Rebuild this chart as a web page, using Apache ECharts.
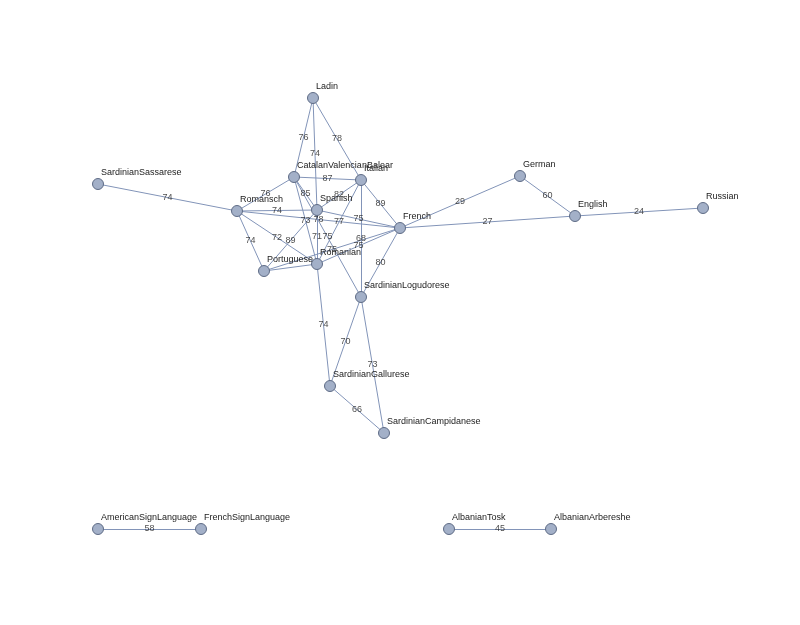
<!DOCTYPE html>
<html><head><meta charset="utf-8">
<script src="https://cdn.jsdelivr.net/npm/echarts@6/dist/echarts.min.js"></script>
<style>html,body{margin:0;background:#fff}#c{width:800px;height:625px}</style>
</head><body><div id="c"></div>
<script>
// language nodes and their layout positions (px)
const names = ['Ladin','CatalanValencianBalear','Italian','Spanish','Romansch','French','Portuguese','Romanian',
  'SardinianLogudorese','SardinianSassarese','German','English','Russian','SardinianGallurese','SardinianCampidanese',
  'AmericanSignLanguage','FrenchSignLanguage','AlbanianTosk','AlbanianArbereshe'];
const posX = [313,294,361,317,237,400,264,317,361,98,520,575,703,330,384,98,201,449,551];
const posY = [98,177,180,210,211,228,271,264,297,184,176,216,208,386,433,529,529,529,529];
// edges: source, target, similarity
const edgeSrc = ['Ladin','Ladin','Ladin','CatalanValencianBalear','Romansch','CatalanValencianBalear','Italian','Italian',
  'Romansch','SardinianSassarese','CatalanValencianBalear','Romansch','Italian','Spanish','CatalanValencianBalear','Romansch',
  'Portuguese','Romansch','Italian','Romanian','Portuguese','French','Romanian','SardinianLogudorese','SardinianLogudorese',
  'SardinianGallurese','French','German','French','English','AmericanSignLanguage','AlbanianTosk','Spanish','Portuguese'];
const edgeDst = ['CatalanValencianBalear','Spanish','Italian','Italian','CatalanValencianBalear','Spanish','Spanish','French',
  'Spanish','Romansch','Romanian','French','Romanian','Romanian','SardinianLogudorese','Romanian',
  'Spanish','Portuguese','SardinianLogudorese','French','French','SardinianLogudorese','SardinianGallurese','SardinianGallurese','SardinianCampidanese',
  'SardinianCampidanese','German','English','English','Russian','FrenchSignLanguage','AlbanianArbereshe','French','Romanian'];
const edgeVal = [76,74,78,87,76,85,82,89,74,74,73,78,77,71,75,72,89,74,68,75,75,80,74,70,73,66,29,60,27,24,58,45,75,null];

const idx = n => names.indexOf(n);
const mids = edgeSrc.map((s, i) => {
  const a = idx(s), b = idx(edgeDst[i]);
  return { value: [(posX[a] + posX[b]) / 2, (posY[a] + posY[b]) / 2], txt: edgeVal[i] };
}).filter(d => d.txt != null);

const chart = echarts.init(document.getElementById('c'));
chart.setOption({
  animation: false,
  grid: { left: 0, top: 0, right: 0, bottom: 0 },
  xAxis: { type: 'value', min: 0, max: 800, show: false },
  yAxis: { type: 'value', min: 0, max: 625, inverse: true, show: false },
  series: [{
    type: 'graph', layout: 'none', coordinateSystem: 'cartesian2d', z: 2,
    symbolSize: 11,
    itemStyle: { color: '#a3b0c8', borderColor: '#5e6b85', borderWidth: 1 },
    label: { show: true, position: 'right', offset: [-8, -11], align: 'left', fontSize: 9, color: '#222', fontFamily: 'Arial' },
    lineStyle: { color: '#8294b8', width: 1, opacity: 1 },
    data: names.map((n, i) => ({ name: n, value: [posX[i], posY[i]] })),
    links: edgeSrc.map((s, i) => ({ source: s, target: edgeDst[i] }))
  }, {
    type: 'scatter', symbolSize: 0, z: 3, silent: true,
    data: mids,
    label: { show: true, position: 'inside', fontSize: 9, color: '#222', fontFamily: 'Arial',
      formatter: p => String(p.data.txt) }
  }]
});
</script></body></html>
